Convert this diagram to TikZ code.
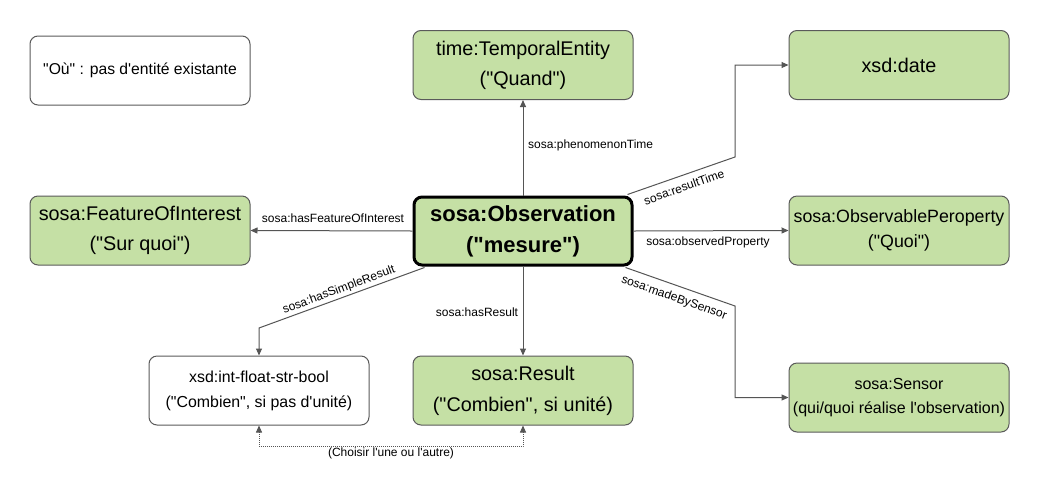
\documentclass[tikz,border=0pt]{standalone}
\usepackage{fontspec}
\setmainfont{Liberation Sans}[Ligatures=TeXOff]
\usetikzlibrary{arrows.meta,calc}
\definecolor{boxgreen}{HTML}{C5E0A5}
\definecolor{bordgray}{HTML}{5A5A5A}
\definecolor{linegray}{HTML}{555555}
\tikzset{
  basebox/.style={draw=bordgray, line width=1pt, rounded corners=8pt, minimum width=220pt, minimum height=69pt, align=center, inner sep=0pt},
  greenbox/.style={basebox, fill=boxgreen},
  whitebox/.style={basebox, fill=white},
  conn/.style={draw=linegray, line width=1pt, -{Stealth[length=7pt,width=6pt,inset=0pt]}},
  dotconn/.style={draw=linegray, line width=0.8pt, dash pattern=on 1pt off 1pt, {Stealth[length=7pt,width=6pt,inset=0pt]}-{Stealth[length=7pt,width=6pt,inset=0pt]}},
  lbl/.style={font=\fontsize{12}{14}\selectfont, inner sep=0pt}
}
\begin{document}
\begin{tikzpicture}[x=1pt,y=-1pt]
\useasboundingbox (0,0) rectangle (1039,491);
\fill[white] (0,0) rectangle (1039,491);
% boxes
\node[whitebox, font=\fontsize{15.7}{20}\selectfont] (ou) at (140,70.5) {"Où" : pas d'entité existante};
\node[greenbox, font=\fontsize{19.8}{30}\selectfont] (time) at (523,65) {time:TemporalEntity\\("Quand")};
\node[greenbox, font=\fontsize{19.8}{30}\selectfont] (date) at (899,65) {xsd:date};
\node[greenbox, font=\fontsize{19.8}{30}\selectfont] (foi) at (140,230.5) {sosa:FeatureOfInterest\\("Sur quoi")};
\node[greenbox, draw=black, line width=3pt, font=\fontsize{22}{31}\selectfont\bfseries, minimum width=218pt, minimum height=68pt] (obs) at (523,231) {sosa:Observation\\("mesure")};
\node[greenbox, font=\fontsize{17.8}{25}\selectfont] (prop) at (899,230.5) {sosa:ObservablePeroperty\\("Quoi")};
\node[whitebox, font=\fontsize{15.9}{25}\selectfont] (xsd) at (259,390.5) {xsd:int-float-str-bool\\("Combien", si pas d'unité)};
\node[greenbox, font=\fontsize{19.8}{31}\selectfont] (res) at (523,390.5) {sosa:Result\\("Combien", si unité)};
\node[greenbox, font=\fontsize{16}{24}\selectfont] (sensor) at (899,397.5) {sosa:Sensor\\(qui/quoi réalise l'observation)};
% bend points
\coordinate (rt) at (735,157);
\coordinate (ms) at (735,306);
\coordinate (hs) at (259,328);
% connectors
\draw[conn] (obs.north) -- (time.south);
\draw[conn] ([xshift=-6pt,yshift=1pt]obs.north east) -- (rt) |- (date.west);
\draw[conn] (obs.west) -- (foi.east);
\draw[conn] (obs.east) -- (prop.west);
\draw[conn] ([xshift=-8pt,yshift=-1pt]obs.south east) -- (ms) |- (sensor.west);
\draw[conn] ([xshift=12pt,yshift=-1pt]obs.south west) -- (hs) -- (xsd.north);
\draw[conn] (obs.south) -- (res.north);
\draw[dotconn] (xsd.south) -- ++(0,21) -| (res.south);
% labels
\node[lbl, anchor=west] (lpt) at (528,145) {sosa:phenomenonTime};
\node[lbl, rotate=19.4] (lrt) at (684,187) {sosa:resultTime};
\node[lbl] (lfoi) at (333,218) {sosa:hasFeatureOfInterest};
\node[lbl] (lop) at (708,242) {sosa:observedProperty};
\node[lbl, rotate=-19.5] (lms) at (674,298) {sosa:madeBySensor};
\node[lbl, rotate=20.5] (lhs) at (339,290) {sosa:hasSimpleResult};
\node[lbl] (lhr) at (477,312) {sosa:hasResult};
\node[lbl] (lch) at (391,453) {(Choisir l'une ou l'autre)};
\end{tikzpicture}
\end{document}
